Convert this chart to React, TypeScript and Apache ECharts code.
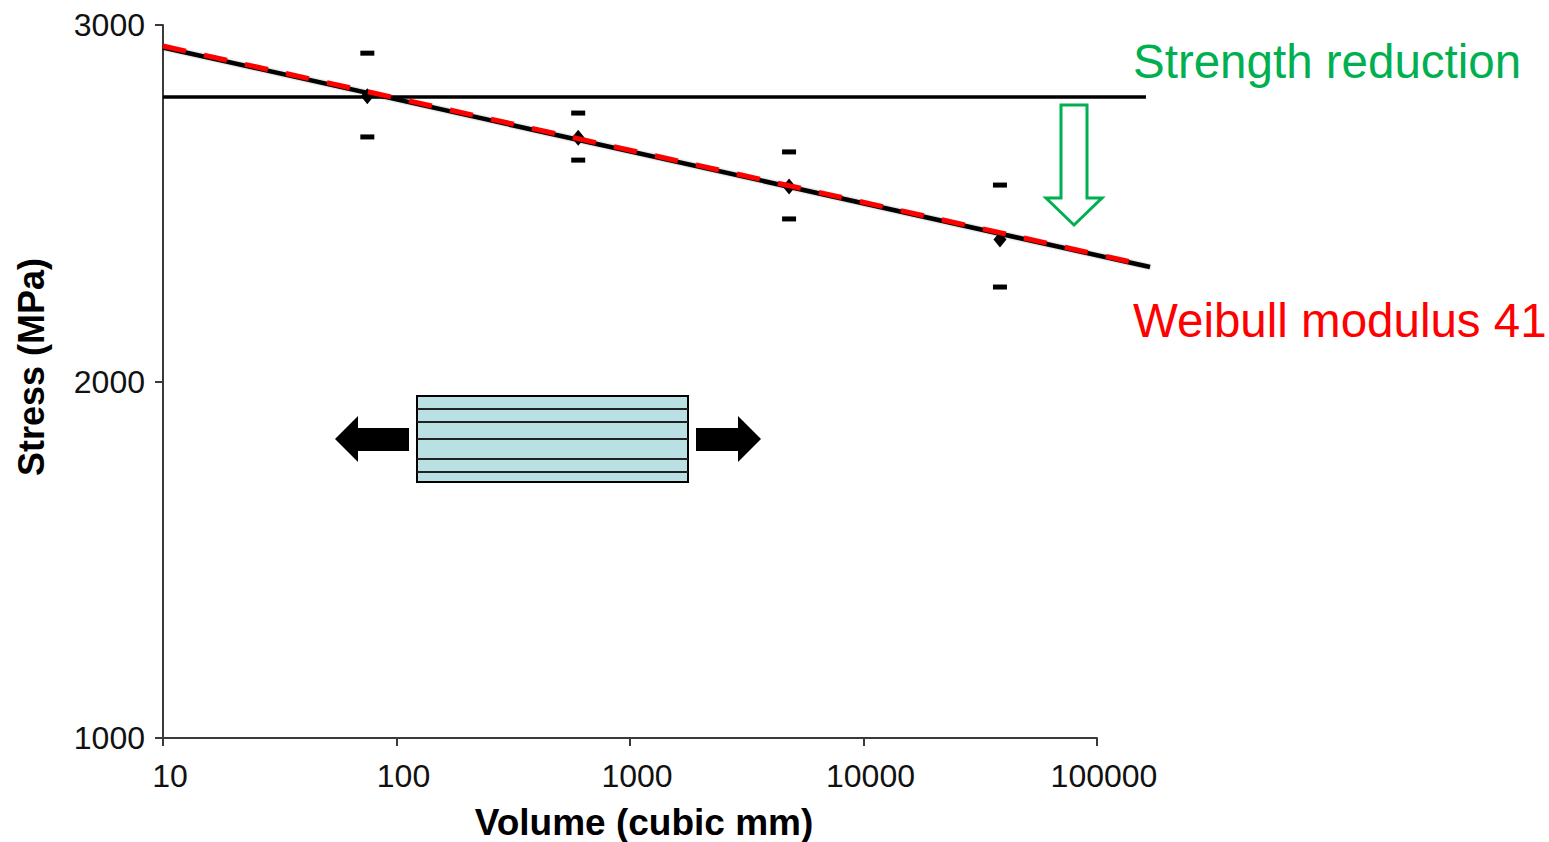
import React, { useEffect, useRef } from "react";
import * as echarts from "echarts";

// ---- data ----
const volumes = [75, 600, 4800, 38400];
const meanStress = [2800, 2684, 2547, 2398];
const upperStress = [2921, 2753, 2644, 2551];
const lowerStress = [2686, 2621, 2456, 2265];

const fitVolumes = [10, 168600];
const fitStress = [2937, 2321];
const weibullVolumes = [10, 145000];
const weibullStress = [2941, 2333];
const refVolumes = [10, 162000];
const refStress = [2798, 2798];

const xMin = 10;
const xMax = 100000;
const xMaxExtended = 168600;
const yMin = 1000;
const yMax = 3000;
const yInterval = 1000;

const FONT = "'Liberation Sans', Arial, sans-serif";

export default function App() {
  const ref = useRef<HTMLDivElement>(null);

  useEffect(() => {
    if (!ref.current) return;
    const chart = echarts.init(ref.current, undefined, { renderer: "svg" });

    const pairs = (xs: number[], ys: number[]) => xs.map((x, i) => [x, ys[i]]);

    const option: any = {
      animation: false,
      backgroundColor: "#ffffff",
      grid: [
        { left: 163, top: 25, width: 934, height: 713 },
        { left: 163, top: 25, width: 987, height: 713 },
      ],
      xAxis: [
        {
          type: "log",
          logBase: 10,
          gridIndex: 0,
          min: xMin,
          max: xMax,
          axisLine: { show: true, lineStyle: { color: "#3a3a3a", width: 2 } },
          axisTick: { show: true, length: 8, lineStyle: { color: "#3a3a3a", width: 2 } },
          minorTick: { show: false },
          splitLine: { show: false },
          axisLabel: {
            fontFamily: FONT,
            fontSize: 32,
            color: "#111",
            margin: 22,
            padding: [0, 0, 0, 14],
            formatter: (v: number) => String(Math.round(v)),
          },
        },
        {
          type: "log",
          logBase: 10,
          gridIndex: 1,
          min: xMin,
          max: xMaxExtended,
          show: false,
          splitLine: { show: false },
        },
      ],
      yAxis: [
        {
          type: "value",
          gridIndex: 0,
          min: yMin,
          max: yMax,
          interval: yInterval,
          axisLine: { show: true, lineStyle: { color: "#3a3a3a", width: 2 } },
          axisTick: { show: true, length: 8, lineStyle: { color: "#3a3a3a", width: 2 } },
          splitLine: { show: false },
          axisLabel: {
            fontFamily: FONT,
            fontSize: 32,
            color: "#111",
            margin: 18,
            padding: [0, 0, 4, 0],
            formatter: (v: number) => String(v),
          },
        },
        {
          type: "value",
          gridIndex: 1,
          min: yMin,
          max: yMax,
          interval: yInterval,
          show: false,
          splitLine: { show: false },
        },
      ],
      series: [
        {
          type: "line",
          xAxisIndex: 1,
          yAxisIndex: 1,
          data: pairs(refVolumes, refStress),
          symbol: "none",
          lineStyle: { color: "#000", width: 3.5 },
          z: 2,
          silent: true,
        },
        {
          type: "line",
          xAxisIndex: 1,
          yAxisIndex: 1,
          data: pairs(fitVolumes, fitStress),
          symbol: "none",
          lineStyle: { color: "#000", width: 4.5, shadowColor: "rgba(0,0,0,0.35)", shadowBlur: 2 },
          z: 3,
          silent: true,
        },
        {
          type: "scatter",
          xAxisIndex: 0,
          yAxisIndex: 0,
          data: pairs(volumes, meanStress),
          symbol: "diamond",
          symbolSize: [13, 16],
          itemStyle: { color: "#000", opacity: 1 },
          z: 4,
          silent: true,
        },
        {
          type: "scatter",
          xAxisIndex: 0,
          yAxisIndex: 0,
          data: pairs(volumes, upperStress),
          symbol: "rect",
          symbolSize: [14, 5],
          itemStyle: { color: "#000", opacity: 1 },
          z: 4,
          silent: true,
        },
        {
          type: "scatter",
          xAxisIndex: 0,
          yAxisIndex: 0,
          data: pairs(volumes, lowerStress),
          symbol: "rect",
          symbolSize: [14, 5],
          itemStyle: { color: "#000", opacity: 1 },
          z: 4,
          silent: true,
        },
        {
          type: "line",
          xAxisIndex: 1,
          yAxisIndex: 1,
          data: pairs(weibullVolumes, weibullStress),
          symbol: "none",
          lineStyle: { color: "#ff0000", width: 5, type: [23.5, 18.5], cap: "butt" },
          z: 5,
          silent: true,
        },
      ],
      graphic: [
        {
          type: "text",
          x: 1133,
          y: 61,
          style: {
            text: "Strength reduction",
            fontFamily: FONT,
            fontSize: 47.5,
            fill: "#00b050",
            align: "left",
            verticalAlign: "middle",
          },
        },
        {
          type: "text",
          x: 1133,
          y: 320,
          style: {
            text: "Weibull modulus 41",
            fontFamily: FONT,
            fontSize: 47.5,
            fill: "#ff0000",
            align: "left",
            verticalAlign: "middle",
          },
        },
        {
          type: "text",
          x: 644,
          y: 822,
          style: {
            text: "Volume (cubic mm)",
            fontFamily: FONT,
            fontSize: 37,
            fontWeight: "bold",
            fill: "#000",
            align: "center",
            verticalAlign: "middle",
          },
        },
        {
          type: "text",
          x: 31,
          y: 367,
          rotation: Math.PI / 2,
          style: {
            text: "Stress (MPa)",
            fontFamily: FONT,
            fontSize: 36,
            fontWeight: "bold",
            fill: "#000",
            align: "center",
            verticalAlign: "middle",
          },
        },
        // green hollow arrow
        {
          type: "polygon",
          shape: {
            points: [
              [1061, 105],
              [1087, 105],
              [1087, 198],
              [1102, 198],
              [1074, 225],
              [1046, 198],
              [1061, 198],
            ],
          },
          style: { fill: "#ffffff", stroke: "#00b050", lineWidth: 3 },
        },
        // specimen diagram
        {
          type: "rect",
          shape: { x: 417, y: 396, width: 271, height: 86 },
          style: { fill: "#b9e0e3", stroke: "#000", lineWidth: 2 },
        },
        ...[409, 422, 439, 459, 472].map((yy) => ({
          type: "line",
          shape: { x1: 417, y1: yy, x2: 688, y2: yy },
          style: { stroke: "#222", lineWidth: 2 },
        })),
        {
          type: "polygon",
          shape: {
            points: [
              [335, 439],
              [358, 416],
              [358, 428],
              [409, 428],
              [409, 451],
              [358, 451],
              [358, 462],
            ],
          },
          style: { fill: "#000" },
        },
        {
          type: "polygon",
          shape: {
            points: [
              [761, 439],
              [738, 416],
              [738, 428],
              [696, 428],
              [696, 451],
              [738, 451],
              [738, 462],
            ],
          },
          style: { fill: "#000" },
        },
      ],
    };

    chart.setOption(option);
    return () => chart.dispose();
  }, []);

  return (
    <div
      ref={ref}
      style={{ position: "fixed", left: 0, top: 0, width: 1549, height: 842, background: "#fff" }}
    />
  );
}
